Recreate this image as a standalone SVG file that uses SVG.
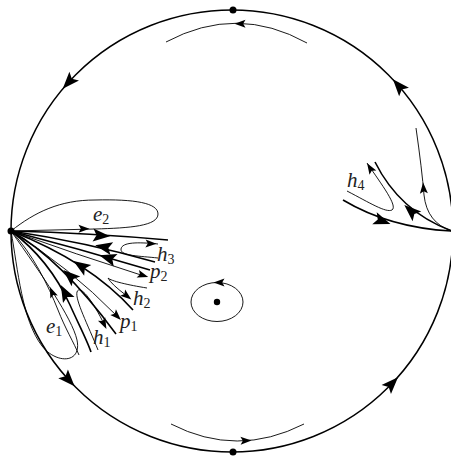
<svg xmlns="http://www.w3.org/2000/svg" width="451" height="457" viewBox="0 0 451 457">
<style>
.bd{fill:none;stroke:#000;stroke-width:1.5}
.tk{fill:none;stroke:#000;stroke-width:1.6}
.tn{fill:none;stroke:#000;stroke-width:0.9}
.lb{font-family:"Liberation Serif","DejaVu Serif",serif;font-style:italic;font-size:21px;fill:#222}
.sb{font-style:normal;font-size:14px}
</style>
<defs>
<path id="ab" d="M9,0 L-8,-6.5 L-4.5,0 L-8,6.5 Z" fill="#000"/>
<path id="as" d="M5.5,0 L-5.5,-4 L-3.2,0 L-5.5,4 Z" fill="#000"/>
</defs>
<rect width="451" height="457" fill="#fff"/>
<g id="boundary">
<circle class="bd" cx="232" cy="231" r="221"/>
<use href="#ab" transform="translate(68.8,82) rotate(132.4)"/>
<use href="#ab" transform="translate(398.8,86) rotate(-131)"/>
<use href="#ab" transform="translate(68.5,379.7) rotate(47.7)"/>
<use href="#ab" transform="translate(391.8,383.7) rotate(-46.3)"/>
</g>
<g id="point-top"><circle cx="233" cy="10" r="3.5"/></g>
<g id="point-bottom"><circle cx="233" cy="452" r="3.5"/></g>
<g id="point-left"><circle cx="11" cy="231" r="3.5"/></g>
<g id="center">
<ellipse class="tn" cx="217" cy="302" rx="26" ry="19.5"/>
<circle cx="217" cy="302" r="3.2"/>
<use href="#as" transform="translate(219,282.5) rotate(180)"/>
</g>
<g id="connectors">
<path class="tn" d="M166,42 Q237,4 307,43"/>
<use href="#as" transform="translate(240,23.8) rotate(180)"/>
<path class="tn" d="M171,424 Q237,458 304,424"/>
<use href="#as" transform="translate(246,440.6) rotate(-2)"/>
<!-- right point fan -->
<path class="tk" d="M343,200 Q390,228 452,231"/>
<use href="#ab" transform="translate(382,221) rotate(20)"/>
<path class="tn" d="M347,191 C370,203 386,213 392,210 C398,206 382,185 367,163"/>
<use href="#as" transform="translate(370,168) rotate(-122)"/>
<path class="tk" d="M375,162 Q400,212 452,231"/>
<use href="#ab" transform="translate(411,211) rotate(-138)"/>
<path class="tn" d="M416,128 Q422,170 424,195 Q427,223 452,231"/>
<use href="#as" transform="translate(423.5,188) rotate(-94)"/>
<!-- left point fan -->
<path class="tn" d="M11,231 C35,212 60,200 95,200 C135,199 158,203 158,214 C158,226 130,228 95,229 L11,231"/>
<use href="#as" transform="translate(84,228.8) rotate(0)"/>
<path class="tk" d="M11,231 Q90,233 168,240"/>
<use href="#ab" transform="translate(101,235.5) rotate(4)"/>
<path class="tn" d="M158,244 C138,242 122,242 121,249 C120,256 140,256 158,258"/>
<use href="#as" transform="translate(151,243.6) rotate(2)"/>
<path class="tk" d="M11,231 Q85,242 155,262"/>
<use href="#ab" transform="translate(104,247) rotate(192)"/>
<path class="tk" d="M11,231 Q80,249 150,270"/>
<use href="#ab" transform="translate(108,258) rotate(197)"/>
<path class="tn" d="M11,231 Q75,254 144,276"/>
<use href="#as" transform="translate(143,275.4) rotate(18)"/>
<path class="tn" d="M147,288 C128,285 111,281 108,278 Q111,284 127,296"/>
<use href="#as" transform="translate(127,296) rotate(38)"/>
<path class="tk" d="M11,231 Q90,262 133,310"/>
<use href="#ab" transform="translate(81,266) rotate(213)"/>
<path class="tn" d="M11,231 Q68,266 118,317"/>
<use href="#as" transform="translate(117,316) rotate(45)"/>
<path class="tk" d="M11,231 Q60,258 116,334"/>
<use href="#ab" transform="translate(70,276) rotate(222)"/>
<path class="tn" d="M98,350 C88,325 75,300 77,292 C79,285 90,295 105,326"/>
<use href="#as" transform="translate(104,324) rotate(64)"/>
<path class="tk" d="M11,231 C42,254 60,283 70,305 C78,323 87,340 91,352"/>
<use href="#ab" transform="translate(65,293) rotate(242)"/>
<path class="tn" d="M11,231 C33,254 48,285 58,310 C65,328 74,343 79,355"/>
<use href="#as" transform="translate(52,292) rotate(248)"/>
<path class="tn" d="M11,231 C18,270 22,320 42,346 C56,364 82,364 77,340 C72,318 42,275 11,231"/>
</g>
<g id="labels">
<text class="lb" x="93" y="221">e<tspan class="sb" dy="3">2</tspan></text>
<text class="lb" x="157" y="261">h<tspan class="sb" dy="3">3</tspan></text>
<text class="lb" x="150" y="278">p<tspan class="sb" dy="3">2</tspan></text>
<text class="lb" x="133" y="305">h<tspan class="sb" dy="3">2</tspan></text>
<text class="lb" x="120" y="328">p<tspan class="sb" dy="3">1</tspan></text>
<text class="lb" x="93" y="344">h<tspan class="sb" dy="3">1</tspan></text>
<text class="lb" x="46" y="333">e<tspan class="sb" dy="3">1</tspan></text>
<text class="lb" x="347" y="187">h<tspan class="sb" dy="3">4</tspan></text>
</g>
</svg>
